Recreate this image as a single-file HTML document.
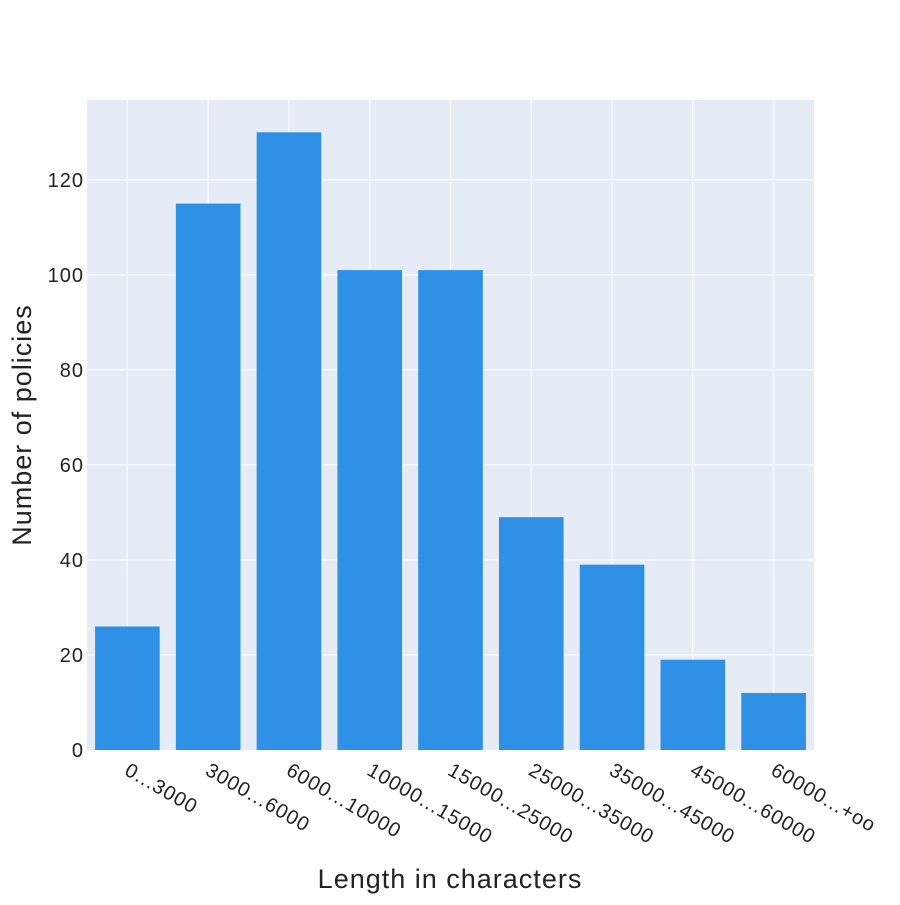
<!DOCTYPE html>
<html><head><meta charset="utf-8"><style>
body{margin:0;background:#fff}
svg text{font-family:"Liberation Sans",sans-serif;fill:#222}
</style></head><body>
<svg id="chart" width="900" height="900"></svg>
<script>
const categories=["0...3000","3000...6000","6000...10000","10000...15000","15000...25000","25000...35000","35000...45000","45000...60000","60000...+oo"];
const counts=[26,115,130,101,101,49,39,19,12];
const yTicks=[0,20,40,60,80,100,120];
const L=87,R=814,T=100,B=750,yMax=136.8;
const ns="http://www.w3.org/2000/svg";
const svg=document.getElementById('chart');
function el(t,a){const e=document.createElementNS(ns,t);for(const k in a)e.setAttribute(k,a[k]);return e;}
const step=(R-L)/categories.length;
const xC=i=>L+step*(i+0.5);
const y=v=>B-(v/yMax)*(B-T);
const bg=el('rect',{x:L,y:T,width:R-L,height:B-T,fill:'#e5ecf6'});


svg.appendChild(bg);
categories.forEach((c,i)=>{
 const g=el('line',{x1:xC(i),x2:xC(i),y1:T,y2:B,stroke:'#fff','stroke-width':1});
 
 
 svg.appendChild(g);
});
yTicks.forEach(t=>{
 if(t>0){const g=el('line',{x1:L,x2:R,y1:y(t),y2:y(t),stroke:'#fff','stroke-width':1});
 
 
 svg.appendChild(g);}
 const tx=el('text',{x:L-3,y:y(t)+7,'text-anchor':'end','font-size':20,'letter-spacing':1});
 tx.textContent=t;
 
 
 svg.appendChild(tx);
});
const bw=step*0.8;
counts.forEach((v,i)=>{
 const r=el('rect',{x:xC(i)-bw/2,y:y(v),width:bw,height:B-y(v),fill:'#2e91e5'});
 
 
 svg.appendChild(r);
});
categories.forEach((c,i)=>{
 const x=xC(i)-4,yy=B+24;
 const tx=el('text',{x:x,y:yy,'font-size':20,'letter-spacing':1,transform:`rotate(30 ${x} ${yy})`});
 tx.textContent=c;
 
 
 svg.appendChild(tx);
});
const xt=el('text',{x:450,y:888,'text-anchor':'middle','font-size':27,'letter-spacing':1});
xt.textContent='Length in characters';


svg.appendChild(xt);
const yt=el('text',{x:31,y:425,'text-anchor':'middle','font-size':27,'letter-spacing':1,transform:'rotate(-90 31 425)'});
yt.textContent='Number of policies';


svg.appendChild(yt);
</script>
</body></html>
